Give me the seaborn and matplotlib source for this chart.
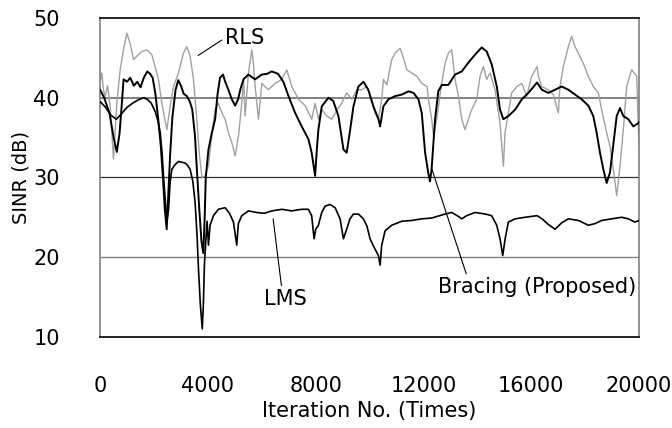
import matplotlib
matplotlib.use('Agg')
import matplotlib.pyplot as plt
import seaborn as sns

# SINR traces (iteration, dB)
bracing_iter = [0, 150, 350, 500, 620, 720, 800, 870, 1000, 1120, 1250, 1380, 1500, 1620, 1750,
                1850, 1950, 2050, 2150, 2250, 2330, 2400, 2470, 2530, 2600, 2680, 2800, 2900, 3000,
                3100, 3217, 3330, 3420, 3520, 3590, 3680, 3760, 3830, 3880, 3920, 4020, 4140, 4267,
                4360, 4450, 4560, 4640, 4760, 4886, 5010, 5120, 5200, 5320, 5500, 5750, 6000, 6200,
                6370, 6600, 6800, 6990, 7236, 7480, 7730, 7850, 7978, 8050, 8100, 8224, 8470, 8650,
                8843, 9030, 9150, 9280, 9400, 9585, 9770, 9950, 10140, 10330, 10390, 10510, 10700,
                10950, 11200, 11440, 11630, 11810, 11935, 12060, 12180, 12240, 12300, 12430, 12550,
                12676, 12920, 13171, 13420, 13666, 13913, 14160, 14345, 14530, 14720, 14840, 14965,
                15150, 15400, 15650, 15893, 16215, 16390, 16633, 16880, 17128, 17375, 17620, 17870,
                18117, 18300, 18426, 18550, 18674, 18797, 18920, 19008, 19170, 19292, 19416, 19600,
                19787, 19973, 20000]
bracing_sinr = [41, 40, 38, 35, 33.2, 35.5, 39, 42.3, 42, 42.5, 41.5, 42, 41.3, 42.5, 43.3,
                43, 42.5, 40.5, 37.5, 34, 30, 26, 23.5, 28, 33, 37.5, 41, 42.2, 41.5,
                40.5, 40.2, 39.5, 38.5, 35.2, 31, 26, 22, 20.5, 25, 30, 33.5, 35.5, 37.3,
                40.5, 42.5, 42.9, 42, 41, 39.8, 39, 39.8, 41, 42.3, 42.9, 42.3, 42.9, 43,
                43.3, 43, 42, 40.2, 38.1, 36.4, 34.8, 33.1, 30.2, 33.9, 36, 38.9, 40, 39.6,
                37.7, 33.5, 33.1, 36, 38.9, 41.4, 42, 41, 38.9, 37.3, 36.4, 38.9, 39.8,
                40.2, 40.4, 40.8, 40.6, 39.8, 38.1, 33.1, 30.5, 29.5, 31, 37.3, 40.8,
                41.6, 41.6, 42.9, 43.3, 44.4, 45.4, 46.3, 45.8, 44.2, 41.4, 38.5, 37.3,
                37.7, 38.5, 39.8, 40.6, 41.9, 41, 40.6, 41, 41.4, 41, 40.4, 39.8,
                39, 37.7, 35.6, 33.1, 31, 29.3, 30.6, 33.1, 37.7, 38.7, 37.7, 37.3,
                36.4, 36.8, 37]

lms_iter = [0, 200, 400, 600, 800, 1000, 1200, 1400, 1600, 1750, 1900, 2050, 2150, 2230, 2300,
            2350, 2420, 2480, 2540, 2600, 2660, 2780, 2907, 3030, 3155, 3250, 3340, 3440, 3526,
            3600, 3650, 3720, 3790, 3830, 3870, 3920, 3970, 4020, 4080, 4205, 4390, 4638, 4800,
            4947, 5070, 5130, 5257, 5504, 5800, 6100, 6370, 6750, 7100, 7483, 7730, 7850, 7940,
            8000, 8100, 8224, 8348, 8534, 8720, 8905, 9028, 9150, 9270, 9400, 9585, 9770, 9900,
            10018, 10140, 10327, 10390, 10450, 10575, 10822, 11193, 11560, 11935, 12300, 12800,
            13048, 13300, 13419, 13600, 13913, 14300, 14530, 14717, 14840, 14940, 15030, 15150,
            15400, 15770, 16215, 16400, 16633, 16880, 17128, 17375, 17750, 18117, 18360, 18612,
            18980, 19354, 19600, 19849, 20000]
lms_sinr = [39.5, 38.8, 37.8, 37.3, 38, 38.8, 39.3, 39.7, 40, 39.8, 39.3, 38.2, 37, 35.6, 33,
            30.2, 27, 24.5, 26, 29.5, 31, 31.6, 32, 31.9, 31.8, 31.5, 31, 29.5, 26.8,
            22.5, 18.5, 14, 11, 14, 19, 22, 24.5, 21.5, 24, 25.2, 26, 26.2, 25.5,
            24.4, 21.5, 24.2, 25.2, 25.8, 25.6, 25.5, 25.8, 26, 25.8, 26, 26, 25.2, 22.3,
            23.5, 24, 25.6, 26.4, 26.6, 26.2, 24.8, 22.3, 23.5, 24.8, 25.4, 25.4, 24.8, 23.9,
            22.3, 21.4, 20.2, 19, 21.5, 23.3, 24, 24.5, 24.6, 24.8, 24.9, 25.4,
            25.6, 25.1, 24.8, 25.2, 25.6, 25.4, 25.2, 24, 22.3, 20.2, 22.3, 24.4,
            24.8, 25, 25.2, 24.8, 24.1, 23.5, 24.3, 24.8, 24.6, 24, 24.2, 24.6,
            24.8, 25, 24.8, 24.4, 24.6]

rls_iter = [0, 62, 120, 186, 280, 372, 495, 620, 743, 866, 990, 1114, 1238, 1360, 1547, 1732,
            1918, 2040, 2165, 2290, 2400, 2475, 2600, 2722, 2907, 3093, 3217, 3340, 3464, 3588,
            3680, 3780, 3896, 4020, 4143, 4267, 4390, 4515, 4638, 4762, 4886, 5010, 5133, 5257,
            5320, 5380, 5504, 5628, 5690, 5752, 5875, 6000, 6246, 6490, 6741, 6927, 7112, 7360,
            7607, 7854, 7977, 8100, 8224, 8410, 8596, 8780, 8967, 9150, 9338, 9523, 9710, 9895,
            10080, 10204, 10327, 10450, 10513, 10637, 10822, 10945, 11132, 11255, 11379, 11565,
            11750, 11935, 12133, 12182, 12305, 12370, 12490, 12676, 12800, 12924, 13048, 13171,
            13295, 13419, 13542, 13666, 13790, 13975, 14100, 14222, 14345, 14470, 14655, 14840,
            14965, 15025, 15150, 15274, 15460, 15645, 15830, 16016, 16215, 16262, 16385, 16633,
            16818, 17004, 17065, 17189, 17375, 17499, 17622, 17746, 17930, 18117, 18302, 18488,
            18612, 18798, 18921, 19045, 19169, 19292, 19416, 19540, 19725, 19911, 20000]
rls_sinr = [42, 43.1, 41, 40.2, 41.5, 38.9, 32.3, 39.3, 43.5, 46, 48.1, 46.8, 44.8, 45.2, 45.8, 46,
            45.4, 43.9, 42.3, 39.3, 37.3, 36, 38.9, 41.4, 43.1, 45.6, 46.4, 45.2, 42.3, 37.3,
            33, 30, 30.2, 31.4, 35.2, 38.5, 39.3, 38.1, 37.3, 35.6, 34.4, 32.7, 35.2, 39.3,
            42.5, 37.7, 43.1, 46, 44.3, 41.4, 37.3, 41.8, 41, 41.8, 42.3, 43.5, 41.4, 39.8,
            39, 37.3, 39.3, 37.3, 38.5, 37.7, 37.3, 38.4, 39.3, 40.6, 39.8, 41, 41, 41.4,
            39.8, 38.1, 37.3, 39.8, 42.3, 41.6, 44.8, 45.6, 46.2, 45, 43.5, 43.1,
            42.7, 41.8, 41.4, 39.8, 37.3, 35.2, 37.3, 41.8, 44.3, 45.6, 46, 42.3,
            40.2, 37.3, 36, 37.3, 38.5, 39.8, 42.7, 43.9, 42.3, 43.1, 41, 36.8,
            31.4, 35.6, 38.1, 40.6, 41.4, 41.8, 40.2, 42.7, 43.9, 42.7, 41.4, 41,
            40.4, 38.1, 41.4, 43.9, 46.4, 47.7, 46.4, 45.6, 44.3, 42.7, 41.4, 40.6,
            38.5, 35.6, 33.9, 31, 27.7, 31.4, 36, 41.4, 43.5, 42.7, 33.5]

sns.set_style('white')
plt.rcParams['font.family'] = ['DejaVu Sans']
plt.rcParams['text.color'] = 'black'
plt.rcParams['axes.labelcolor'] = 'black'
plt.rcParams['xtick.color'] = 'black'
plt.rcParams['ytick.color'] = 'black'

fig, ax = plt.subplots(figsize=(6.72, 4.28), dpi=100)
fig.subplots_adjust(left=0.149, right=0.951, top=0.958, bottom=0.213)

# horizontal reference lines
ax.axhline(20, color='#808080', lw=1.0, zorder=1)
ax.axhline(30, color='#303030', lw=0.9, zorder=1)
ax.axhline(40, color='#808080', lw=1.4, zorder=1)

sns.lineplot(x=rls_iter, y=rls_sinr, color='#a0a0a0', lw=1.0, errorbar=None, ax=ax, zorder=2)
sns.lineplot(x=lms_iter, y=lms_sinr, color='black', lw=1.2, errorbar=None, ax=ax, zorder=3)
sns.lineplot(x=bracing_iter, y=bracing_sinr, color='black', lw=1.4, errorbar=None, ax=ax, zorder=4)

ax.set_xlim(0, 20000)
ax.set_ylim(10, 50)
ax.set_xticks(range(0, 20001, 4000))
ax.set_yticks(range(10, 51, 10))
ax.tick_params(axis='x', direction='in', length=6, pad=28, labelsize=15)
ax.tick_params(axis='y', direction='in', length=6, pad=29, labelsize=15)
ax.set_xlabel('Iteration No. (Times)', fontsize=15, labelpad=4)
ax.set_ylabel('SINR (dB)', fontsize=14, labelpad=2)

ax.spines['top'].set_color('black')
ax.spines['bottom'].set_color('black')
ax.spines['left'].set_color('#808080')
ax.spines['right'].set_color('#808080')
for s in ax.spines.values():
    s.set_linewidth(1.2)

line_kw = dict(arrowstyle='-', color='black', lw=0.8, shrinkA=0, shrinkB=0)
ax.annotate('RLS', xy=(3636, 45.3), xytext=(4638, 47.5), fontsize=15, ha='left', va='center',
            arrowprops=dict(line_kw, relpos=(0, 0.5)))
ax.annotate('LMS', xy=(6420, 24.8), xytext=(6870, 14.75), fontsize=15, ha='center', va='center',
            arrowprops=dict(line_kw, relpos=(0.42, 1)))
ax.annotate('Bracing (Proposed)', xy=(12316, 31), xytext=(16200, 16.25), fontsize=15,
            ha='center', va='center', arrowprops=dict(line_kw, relpos=(0.15, 1)))

fig.savefig('out.png', dpi=100)
